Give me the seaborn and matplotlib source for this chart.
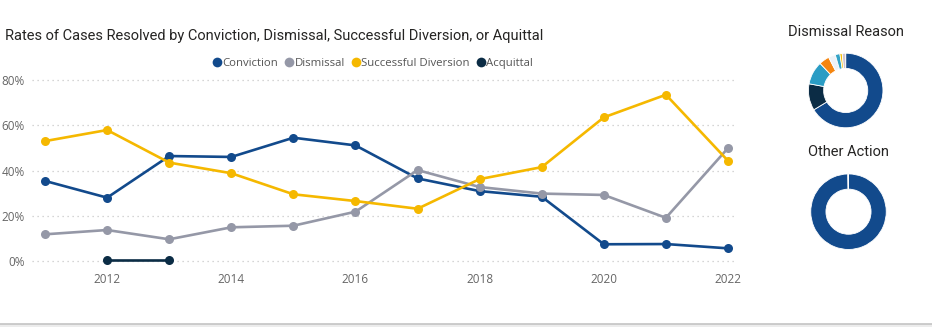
import numpy as np
import pandas as pd
import matplotlib
matplotlib.use("Agg")
import matplotlib.pyplot as plt
from matplotlib.lines import Line2D
import seaborn as sns

# ---- data -------------------------------------------------------------
years = list(range(2011, 2023))
conviction = [35.4, 28.0, 46.4, 46.0, 54.5, 51.1, 36.5, 30.9, 28.4, 7.4, 7.5, 5.6]
dismissal = [11.8, 13.7, 9.6, 14.9, 15.6, 21.8, 40.2, 32.7, 29.8, 29.2, 19.1, 49.9]
diversion = [53.0, 57.9, 43.5, 38.8, 29.5, 26.5, 23.1, 36.2, 41.5, 63.5, 73.5, 44.3]
acquittal_years = [2012, 2013]
acquittal = [0.4, 0.4]

series_names = ["Conviction", "Dismissal", "Successful Diversion", "Acquittal"]
series_colors = ["#124A8C", "#9598A7", "#F5B800", "#0B2C45"]

dismissal_reason_vals = [66.0, 11.5, 10.0, 4.5, 3.0, 2.0, 1.0, 1.5]
dismissal_reason_colors = ["#124A8C", "#0B2C45", "#2A9CC4", "#F5850F",
                           "#EEF2F6", "#33A2C6", "#F5C000", "#CDC3CF"]
other_action_vals = [99.7, 0.3]
other_action_colors = ["#124A8C", "#124A8C"]

y_ticks = [0, 20, 40, 60, 80]
x_ticks = [2012, 2014, 2016, 2018, 2020, 2022]

# ---- long-form table for seaborn ---------------------------------------
frames = [
    pd.DataFrame({"Year": years, "Rate": conviction, "Outcome": "Conviction"}),
    pd.DataFrame({"Year": years, "Rate": dismissal, "Outcome": "Dismissal"}),
    pd.DataFrame({"Year": years, "Rate": diversion, "Outcome": "Successful Diversion"}),
    pd.DataFrame({"Year": acquittal_years, "Rate": acquittal, "Outcome": "Acquittal"}),
]
df = pd.concat(frames, ignore_index=True)

sns.set_theme(style="white")
plt.rcParams["font.family"] = ["Open Sans", "DejaVu Sans"]

W, H = 932, 327
fig = plt.figure(figsize=(W / 100, H / 100), dpi=100)
fig.patch.set_facecolor("white")

def px_axes(left, top, width, height):
    return fig.add_axes([left / W, 1 - (top + height) / H, width / W, height / H])

# ---- line chart --------------------------------------------------------
ax = px_axes(32, 75.5, 705, 192.3)
sns.lineplot(data=df, x="Year", y="Rate", hue="Outcome",
             hue_order=series_names, palette=series_colors,
             marker="o", markersize=6.5, markeredgewidth=0,
             linewidth=1.9, legend=False, ax=ax)
ax.set_xlim(2010.79, 2022.145)
ax.set_ylim(-3, 82)
ax.set_yticks(y_ticks)
ax.set_yticklabels([f"{v}%" for v in y_ticks])
ax.set_xticks(x_ticks)
ax.set_xticklabels([str(v) for v in x_ticks])
ax.set_xlabel("")
ax.set_ylabel("")
ax.tick_params(axis="both", length=0, labelsize=8.5, colors="#666666")
ax.tick_params(axis="y", pad=5)
ax.tick_params(axis="x", pad=4)
for sp in ax.spines.values():
    sp.set_visible(False)
ax.grid(axis="y", color="#c8c8c8", linestyle=(0, (1, 3)), linewidth=0.9)
ax.grid(axis="x", visible=False)
ax.set_axisbelow(True)

fig.text(5 / W, 1 - 36 / H, "Rates of Cases Resolved by Conviction, Dismissal, "
         "Successful Diversion, or Aquittal",
         fontsize=10.5, color="#252423", va="center", ha="left",
         family=["Roboto", "DejaVu Sans"])

handles = [Line2D([], [], linestyle="none", marker="o", markersize=7,
                  markerfacecolor=c, markeredgewidth=0) for c in series_colors]
fig.legend(handles, series_names, loc="center", bbox_to_anchor=(372 / W, 1 - 63.5 / H),
           ncol=4, frameon=False, fontsize=8.2, handletextpad=0.0,
           columnspacing=0.45, handlelength=1.0, labelcolor="#555555",
           borderaxespad=0, borderpad=0)

# ---- donuts ------------------------------------------------------------
def donut(cx, cy, r, r_in, vals, colors, title, ty):
    a = px_axes(cx - r, cy - r, 2 * r, 2 * r)
    a.pie(vals, colors=colors, startangle=90, counterclock=False, radius=1,
          wedgeprops=dict(width=1 - r_in / r, edgecolor="white", linewidth=0.6))
    a.set_xlim(-1.02, 1.02)
    a.set_ylim(-1.02, 1.02)
    a.set_aspect("equal")
    a.axis("off")
    fig.text(cx / W, 1 - ty / H, title, ha="center", va="center",
             fontsize=10.5, color="#252423", family=["Roboto", "DejaVu Sans"])

donut(845.7, 90.5, 38, 22.5, dismissal_reason_vals, dismissal_reason_colors,
      "Dismissal Reason", 31.5)
donut(848.5, 211.7, 38.5, 23, other_action_vals, other_action_colors,
      "Other Action", 152)

# ---- footer rule -------------------------------------------------------
fig.add_artist(plt.Rectangle((0, 0), 1, 3 / H, transform=fig.transFigure,
                             facecolor="#ececec", edgecolor="none"))
fig.add_artist(Line2D([0, 1], [3.5 / H, 3.5 / H], transform=fig.transFigure,
                      color="#c4c4c4", linewidth=1.2))

fig.savefig("out.png", dpi=100, facecolor="white")
